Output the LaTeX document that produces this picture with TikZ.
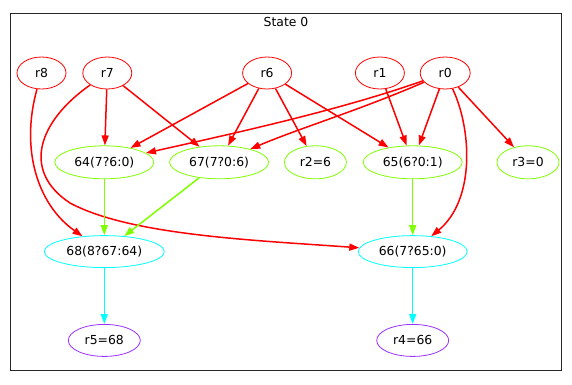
\documentclass[tikz,border=0pt]{standalone}
\usepackage{fontspec}
\setmainfont{DejaVu Sans}
\usepackage{tikz}
\usetikzlibrary{arrows.meta,positioning,shapes.geometric}
\definecolor{regred}{HTML}{FF0000}
\definecolor{opgreen}{HTML}{7FFF00}
\definecolor{muxcyan}{HTML}{00FFFF}
\definecolor{respurple}{HTML}{9B30FF}

\begin{document}
\begin{tikzpicture}[
			x=1pt,y=-1pt,
			font=\fontsize{12.4}{14}\selectfont,
			base/.style={ellipse,line width=0.8pt,inner sep=0pt,minimum height=32pt,align=center},
			regnode/.style={base,draw=regred,minimum width=49pt},
			opnode/.style={base,draw=opgreen,minimum height=33pt,minimum width=99pt},
			muxnode/.style={base,draw=muxcyan},
			resnode/.style={base,draw=respurple,minimum width=72pt},
			frame/.style={draw=black!85,line width=0.8pt},
			redarr/.style={-{Triangle[length=10pt,width=7pt]},line width=1.5pt,regred},
			grnarr/.style={-{Triangle[length=10pt,width=7pt]},line width=1.5pt,opgreen},
			cynarr/.style={-{Triangle[length=10pt,width=7pt]},line width=1.5pt,muxcyan}
			]
			\useasboundingbox (0,0) rectangle (572,384);
			\draw[frame] (10.5,13.5) rectangle (561.5,370.5);
			\node (title) at (286,22) {State 0};
			\node[regnode] (r8) at (41.5,73) {r8};
			\node[regnode] (r7) [right=16pt of r8] {r7};
			\node[regnode] (r6) [right=110pt of r7] {r6};
			\node[regnode] (r1) [right=63pt of r6] {r1};
			\node[regnode,minimum width=50pt] (r0) [right=15pt of r1] {r0};
			\node[opnode] (n64) [below=56pt of r7,xshift=-3pt] {64(7?6:0)};
			\node[opnode] (n67) [right=15pt of n64] {67(7?0:6)};
			\node[opnode,minimum width=62pt] (r2) [right=15pt of n67] {r2=6};
			\node[opnode] (n65) [right=16pt of r2] {65(6?0:1)};
			\node[opnode,minimum width=62pt] (r3) [right=34pt of n65] {r3=0};
			\node[muxnode,minimum width=120pt] (n68) [below=56pt of n64] {68(8?67:64)};
			\node[muxnode,minimum width=109pt] (n66) [below=56pt of n65] {66(7?65:0)};
			\node[resnode] (r5) [below=56pt of n68] {r5=68};
			\node[resnode] (r4) [below=56pt of n66] {r4=66};
			\draw[redarr] (r8) .. controls (20,150) and (38,205) .. (n68);
			\draw[redarr] (r7) .. controls (40,120) and (20,170) .. (70,203) .. controls (130,235) and (250,240) .. (n66);
			\draw[redarr] (r7)--(n64); \draw[redarr] (r7)--(n67);
			\draw[redarr] (r6)--(n64); \draw[redarr] (r6)--(n67);
			\draw[redarr] (r6)--(r2); \draw[redarr] (r6)--(n65);
			\draw[redarr] (r1)--(n65);
			\draw[redarr] (r0) .. controls (340,110) and (240,132) .. (n64);
			\draw[redarr] (r0) .. controls (360,110) and (300,128) .. (n67);
			\draw[redarr] (r0)--(n65); \draw[redarr] (r0)--(r3);
			\draw[redarr] (r0) .. controls (472,130) and (475,200) .. (n66);
			\draw[grnarr] (n64)--(n68); \draw[grnarr] (n67)--(n68);
			\draw[grnarr] (n65)--(n66);
			\draw[cynarr] (n68)--(r5); \draw[cynarr] (n66)--(r4);
		\end{tikzpicture}
\end{document}
